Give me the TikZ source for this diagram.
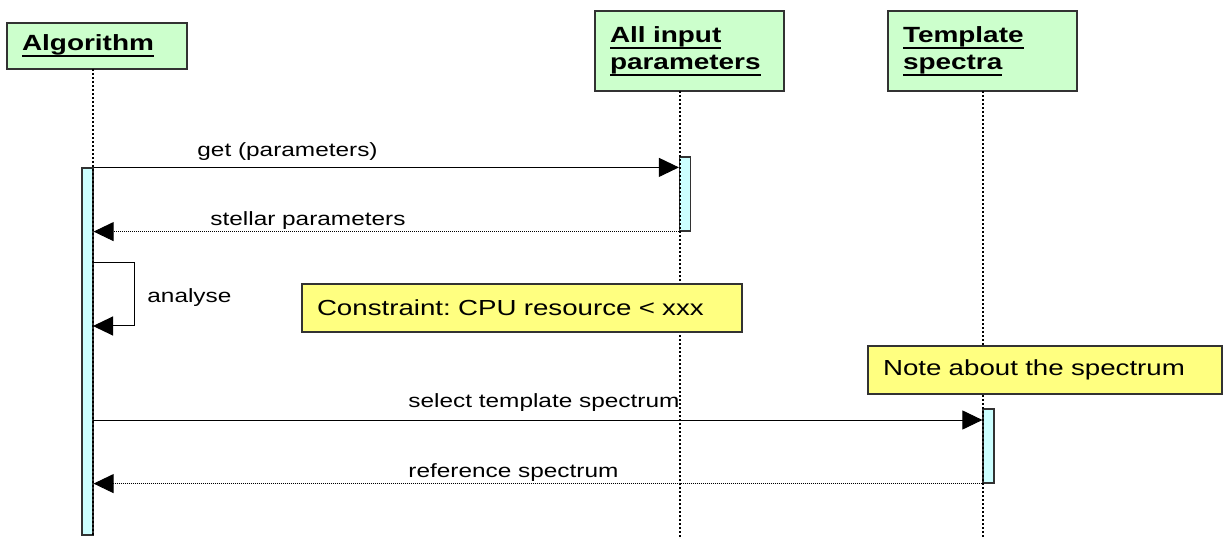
\documentclass[tikz,border=0pt]{standalone}
\usepackage{fontspec}
\setmainfont[FakeStretch=1.27]{Liberation Sans}
\usetikzlibrary{arrows.meta}
\definecolor{hdrfill}{RGB}{204,255,204}
\definecolor{actfill}{RGB}{204,255,255}
\definecolor{notefill}{RGB}{255,255,128}
\definecolor{edgecol}{RGB}{50,50,50}
\newcommand\hdrul[1]{\leavevmode\setbox0\hbox{#1}\rlap{\rule[-3.4pt]{\wd0}{0.95pt}}\box0}
\frenchspacing
\begin{document}
\begin{tikzpicture}[x=0.5pt,y=-0.5pt,
  hdr/.style={draw=edgecol, line width=0.75pt, fill=hdrfill, inner xsep=7.5pt, inner ysep=0pt,
    align=left, font=\fontsize{11}{13.5}\selectfont\bfseries, text width=#1},
  notebox/.style={draw=edgecol, line width=0.75pt, fill=notefill, inner xsep=7.5pt, inner ysep=0pt,
    align=left, font=\fontsize{10.9}{13}\selectfont, text width=#1, minimum height=24pt},
  actbar/.style={draw=edgecol, line width=0.6pt, fill=actfill, inner sep=0pt, minimum width=5.5pt},
  life/.style={line width=1.3pt, dash pattern=on 1pt off 1pt},
  msg/.style={line width=0.5pt, -{Triangle[length=10pt,width=9.5pt]}},
  ret/.style={line width=0.5pt, dash pattern=on 0.5pt off 0.5pt, -{Triangle[length=10pt,width=9.5pt]}},
  lbl/.style={anchor=base west, inner sep=0pt, font=\fontsize{9.6}{11.5}\selectfont}
]
\useasboundingbox (0,0) rectangle (1225,539);

% headers
\node[hdr=75pt, minimum height=23pt] (alg) at (97,46) {\hdrul{Algorithm}};
\node[hdr=79.5pt, minimum height=40pt] (inp) at (689.5,51) {\hdrul{All input}\\\hdrul{parameters}};
\node[hdr=79.5pt, minimum height=40pt] (tpl) at (982.5,51) {\hdrul{Template}\\\hdrul{spectra}};

% lifeline end points
\coordinate (algTop) at (93,69);
\coordinate (algEnd) at (93,535);
\coordinate (inpTop) at (680,91);
\coordinate (inpEnd) at (680,539);
\coordinate (tplTop) at (983,91);
\coordinate (tplEnd) at (983,539);

% activation bars
\node[actbar, minimum height=183.5pt] (barA) at (87.5,351.5) {};
\node[actbar, minimum height=37pt] (barB) at (685,194) {};
\node[actbar, minimum height=37pt] (barC) at (988.5,446) {};

% lifelines
\draw[life] (algTop) -- (algEnd);
\draw[life] (inpTop) -- (inpEnd);
\draw[life] (tplTop) -- (tplEnd);

% notes
\node[notebox=205pt] (n1) at (522,308) {Constraint: CPU resource < xxx};
\node[notebox=162pt] (n2) at (1045,370) {Note about the spectrum};

% messages
\draw[msg] (barA.north east) -- (barA.north east -| barB.west);
\node[lbl] (l1) at (197,157) {get (parameters)};

\draw[ret] (barB.south west) -- (barB.south west -| barA.east);
\node[lbl] (l2) at (210,226) {stellar parameters};

\coordinate (s1) at (93,263);
\coordinate (s2) at (134,263);
\coordinate (s3) at (134,326);
\coordinate (s4) at (93,326);
\draw[msg] (s1) -- (s2) -- (s3) -- (s4);
\node[lbl] (l3) at (147,303) {analyse};

\coordinate (m3) at (93,420);
\draw[msg] (m3) -- (m3 -| barC.west);
\node[lbl] (l4) at (408,408) {select template spectrum};

\draw[ret] (barC.south west) -- (barC.south west -| barA.east);
\node[lbl] (l5) at (408,477) {reference spectrum};
\end{tikzpicture}
\end{document}
